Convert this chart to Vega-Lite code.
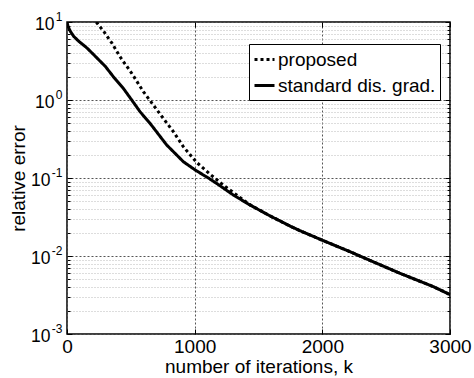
{
  "$schema": "https://vega.github.io/schema/vega-lite/v6.json",
  "width": 383,
  "height": 312,
  "autosize": {"type": "none"},
  "padding": {"left": 67, "top": 22, "right": 24, "bottom": 44},
  "background": "white",
  "config": {
    "font": "Liberation Sans",
    "view": {"stroke": "black", "strokeWidth": 1.5},
    "axis": {
      "labelFont": "Liberation Sans",
      "titleFont": "Liberation Sans",
      "labelColor": "black",
      "titleColor": "black",
      "titleFontWeight": "normal",
      "tickColor": "black",
      "domain": false
    }
  },
  "datasets": {
    "curves": [
      {"k": 0, "err": 10, "method": "standard dis. grad."},
      {"k": 8, "err": 8.8, "method": "standard dis. grad."},
      {"k": 26, "err": 7.6, "method": "standard dis. grad."},
      {"k": 52, "err": 6.56, "method": "standard dis. grad."},
      {"k": 92, "err": 5.66, "method": "standard dis. grad."},
      {"k": 157, "err": 4.64, "method": "standard dis. grad."},
      {"k": 222, "err": 3.63, "method": "standard dis. grad."},
      {"k": 300, "err": 2.7, "method": "standard dis. grad."},
      {"k": 363, "err": 1.99, "method": "standard dis. grad."},
      {"k": 441, "err": 1.41, "method": "standard dis. grad."},
      {"k": 507, "err": 1.0, "method": "standard dis. grad."},
      {"k": 572, "err": 0.708, "method": "standard dis. grad."},
      {"k": 650, "err": 0.503, "method": "standard dis. grad."},
      {"k": 781, "err": 0.265, "method": "standard dis. grad."},
      {"k": 911, "err": 0.162, "method": "standard dis. grad."},
      {"k": 1003, "err": 0.127, "method": "standard dis. grad."},
      {"k": 1107, "err": 0.1, "method": "standard dis. grad."},
      {"k": 1173, "err": 0.085, "method": "standard dis. grad."},
      {"k": 1303, "err": 0.0605, "method": "standard dis. grad."},
      {"k": 1433, "err": 0.0451, "method": "standard dis. grad."},
      {"k": 1590, "err": 0.0327, "method": "standard dis. grad."},
      {"k": 1747, "err": 0.0242, "method": "standard dis. grad."},
      {"k": 1825, "err": 0.0211, "method": "standard dis. grad."},
      {"k": 1997, "err": 0.016, "method": "standard dis. grad."},
      {"k": 2217, "err": 0.01135, "method": "standard dis. grad."},
      {"k": 2347, "err": 0.00916, "method": "standard dis. grad."},
      {"k": 2608, "err": 0.006, "method": "standard dis. grad."},
      {"k": 2869, "err": 0.00405, "method": "standard dis. grad."},
      {"k": 3000, "err": 0.0032, "method": "standard dis. grad."},
      {"k": 180, "err": 13.5, "method": "proposed"},
      {"k": 235, "err": 9.7, "method": "proposed"},
      {"k": 287, "err": 7.6, "method": "proposed"},
      {"k": 352, "err": 5.35, "method": "proposed"},
      {"k": 415, "err": 3.59, "method": "proposed"},
      {"k": 507, "err": 2.2, "method": "proposed"},
      {"k": 598, "err": 1.28, "method": "proposed"},
      {"k": 676, "err": 0.863, "method": "proposed"},
      {"k": 754, "err": 0.582, "method": "proposed"},
      {"k": 833, "err": 0.393, "method": "proposed"},
      {"k": 911, "err": 0.252, "method": "proposed"},
      {"k": 1016, "err": 0.158, "method": "proposed"},
      {"k": 1120, "err": 0.112, "method": "proposed"},
      {"k": 1224, "err": 0.0813, "method": "proposed"},
      {"k": 1329, "err": 0.0605, "method": "proposed"},
      {"k": 1433, "err": 0.0455, "method": "proposed"},
      {"k": 1590, "err": 0.0327, "method": "proposed"},
      {"k": 1747, "err": 0.0242, "method": "proposed"},
      {"k": 1825, "err": 0.0211, "method": "proposed"},
      {"k": 1997, "err": 0.016, "method": "proposed"},
      {"k": 2217, "err": 0.01135, "method": "proposed"},
      {"k": 2347, "err": 0.00916, "method": "proposed"},
      {"k": 2608, "err": 0.006, "method": "proposed"},
      {"k": 2869, "err": 0.00405, "method": "proposed"},
      {"k": 3000, "err": 0.0032, "method": "proposed"}
    ]
  },
  "data": {"name": "curves"},
  "layer": [
    {
      "transform": [{"filter": "datum.method === 'standard dis. grad.' && datum.k <= 1433"}],
      "mark": {"type": "line", "clip": true, "color": "black", "strokeWidth": 3, "strokeCap": "round"},
      "encoding": {
        "x": {
          "field": "k", "type": "quantitative",
          "scale": {"domain": [0, 3000], "nice": false, "zero": false},
          "axis": {
            "orient": "bottom",
            "values": [0, 1000, 2000, 3000],
            "format": "d",
            "labelFontSize": 19,
            "labelPadding": 8,
            "labelFlush": false,
            "ticks": true,
            "tickSize": -5,
            "grid": true,
            "gridColor": "#555",
            "gridDash": [2, 2],
            "gridWidth": 1,
            "title": "number of iterations, k",
            "titleFontSize": 19,
            "titlePadding": 1
          }
        },
        "y": {
          "field": "err", "type": "quantitative",
          "scale": {"type": "log", "domain": [0.001, 10], "nice": false},
          "axis": {
            "orient": "left",
            "values": [0.001, 0.002, 0.003, 0.004, 0.005, 0.006, 0.007, 0.008, 0.009, 0.01, 0.02, 0.03, 0.04, 0.05, 0.06, 0.07, 0.08, 0.09, 0.1, 0.2, 0.3, 0.4, 0.5, 0.6, 0.7, 0.8, 0.9, 1, 2, 3, 4, 5, 6, 7, 8, 9, 10],
            "labelExpr": "abs(log(datum.value)/LN10 - round(log(datum.value)/LN10)) < 0.001 ? '10' : ''",
            "labelFontSize": 17.5,
            "labelPadding": {"condition": {"test": "datum.value >= 0.99", "value": 18}, "value": 22},
            "labelOffset": 2,
            "labelFlush": false,
            "labelOverlap": false,
            "tickSize": {"condition": {"test": "abs(log(datum.value)/LN10 - round(log(datum.value)/LN10)) < 0.001", "value": -5}, "value": -3},
            "grid": true,
            "gridColor": {"condition": {"test": "abs(log(datum.value)/LN10 - round(log(datum.value)/LN10)) < 0.001", "value": "#555"}, "value": "#bbb"},
            "gridDash": {"condition": {"test": "abs(log(datum.value)/LN10 - round(log(datum.value)/LN10)) < 0.001", "value": [2, 2]}, "value": [1, 2]},
            "gridWidth": 1,
            "title": "relative error",
            "titleFontSize": 19,
            "titlePadding": 2
          }
        },
        "strokeDash": {
          "field": "method", "type": "nominal",
          "scale": {"domain": ["proposed", "standard dis. grad."], "range": [[3, 3], [1, 0]]},
          "legend": {
            "orient": "none",
            "legendX": 182,
            "legendY": 22,
            "title": null,
            "symbolType": "stroke",
            "symbolSize": 400,
            "symbolStrokeWidth": 3,
            "symbolStrokeColor": "black",
            "labelFont": "Liberation Sans",
            "labelFontSize": 19,
            "labelColor": "black",
            "labelOffset": 2,
            "rowPadding": 4,
            "padding": 4,
            "strokeColor": "black",
            "fillColor": "white",
            "cornerRadius": 0
          }
        }
      }
    },
    {
      "transform": [{"filter": "datum.method === 'standard dis. grad.' && datum.k >= 1433"}],
      "mark": {"type": "line", "clip": true, "color": "black", "strokeWidth": 3, "strokeCap": "round"},
      "encoding": {
        "x": {
          "field": "k", "type": "quantitative",
          "scale": {"domain": [0, 3000], "nice": false, "zero": false},
          "axis": null
        },
        "y": {
          "field": "err", "type": "quantitative",
          "scale": {"type": "log", "domain": [0.001, 10], "nice": false},
          "axis": {
            "orient": "right",
            "values": [0.001, 0.002, 0.003, 0.004, 0.005, 0.006, 0.007, 0.008, 0.009, 0.01, 0.02, 0.03, 0.04, 0.05, 0.06, 0.07, 0.08, 0.09, 0.1, 0.2, 0.3, 0.4, 0.5, 0.6, 0.7, 0.8, 0.9, 1, 2, 3, 4, 5, 6, 7, 8, 9, 10],
            "labels": false,
            "tickSize": {"condition": {"test": "abs(log(datum.value)/LN10 - round(log(datum.value)/LN10)) < 0.001", "value": -5}, "value": -3},
            "grid": false,
            "title": null
          }
        },
        "strokeDash": {
          "field": "method", "type": "nominal",
          "scale": {"domain": ["proposed", "standard dis. grad."], "range": [[3, 3], [1, 0]]}
        }
      }
    },
    {
      "transform": [{"filter": "datum.method === 'proposed'"}],
      "mark": {"type": "line", "clip": true, "color": "black", "strokeWidth": 3},
      "encoding": {
        "x": {
          "field": "k", "type": "quantitative",
          "scale": {"domain": [0, 3000], "nice": false, "zero": false},
          "axis": {
            "orient": "top",
            "values": [0, 1000, 2000, 3000],
            "labels": false,
            "tickSize": -5,
            "grid": false,
            "title": null
          }
        },
        "y": {
          "field": "err", "type": "quantitative",
          "scale": {"type": "log", "domain": [0.001, 10], "nice": false},
          "axis": {
            "orient": "left",
            "values": [0.001, 0.01, 0.1, 1, 10],
            "labelExpr": "['-3','-2','-1','0','1'][round(log(datum.value)/LN10)+3]",
            "labelFontSize": 12,
            "labelPadding": 5,
            "labelOffset": -6,
            "labelAlign": "right",
            "labelFlush": false,
            "labelOverlap": false,
            "ticks": false,
            "grid": false,
            "title": null
          }
        },
        "strokeDash": {
          "field": "method", "type": "nominal",
          "scale": {"domain": ["proposed", "standard dis. grad."], "range": [[3, 3], [1, 0]]}
        }
      }
    }
  ],
  "resolve": {"axis": {"x": "independent", "y": "independent"}}
}
